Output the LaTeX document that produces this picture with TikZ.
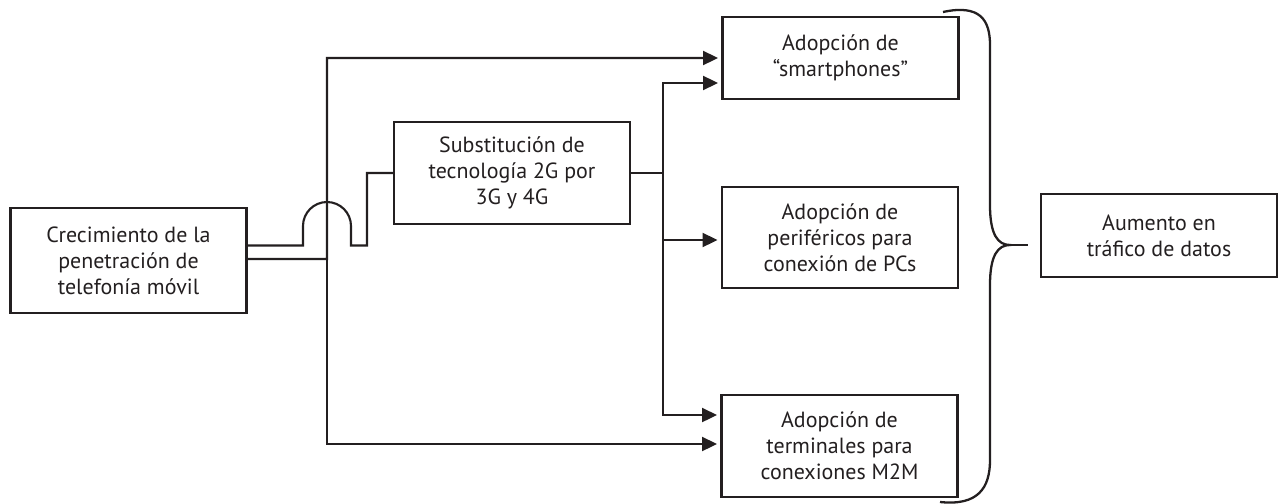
\documentclass[tikz,border=0pt]{standalone}
\usepackage{fontspec}
\setmainfont{PT Sans}
\usepackage{xcolor}
\usepackage{tikz}
\usetikzlibrary{arrows.meta,positioning}

\definecolor{ink}{RGB}{35,31,32}

\begin{document}
\begin{tikzpicture}[
    x=0.02cm, y=-0.02cm,
    box/.style={rectangle, draw=ink, line width=1.2pt, minimum width=4.72cm, align=center,
        font=\fontsize{12.5}{14.8}\selectfont, text=ink, inner sep=0pt},
    link/.style={draw=ink, line width=1.2pt},
    arr/.style={link, -{Triangle[length=8.5pt,width=8pt]}, shorten >=2pt}
]
    \useasboundingbox (0,0) rectangle (1282,504);

    % Boxes
    \node[box, minimum height=2.1cm] (crec) at (128.5,260.5)
        {Crecimiento de la\\penetración de\\telefonía móvil};
    \node[box, minimum height=2.04cm] (subst) at (512,173)
        {Substitución de\\tecnología 2G por\\3G y 4G};
    \node[box, minimum height=1.64cm] (smart) at (840.5,58)
        {Adopción de\\“smartphones”};
    \node[box, minimum height=2.02cm] (perif) at (840,237.5)
        {Adopción de\\periféricos para\\conexión de PCs};
    \node[box, minimum height=2.04cm] (m2m) at (839.5,446)
        {Adopción de\\terminales para\\conexiones M2M};
    \node[box, minimum height=1.66cm] (aumento) at (1159,235.5)
        {Aumento en\\tráfico de datos};

    % Upper line, jumping over the vertical one
    \draw[link] ([yshift=0.3cm]crec.east) -- (303,245.5) -- (303,226)
        arc[start angle=180, end angle=0, radius=0.48cm] -- (351,245.5)
        -- (367,245.5) |- (subst.west);

    % Lower line
    \draw[arr] ([yshift=0.03cm]crec.east) -- (327,259) |- (smart.west);
    \draw[arr] (327,259) |- ([yshift=0.04cm]m2m.west);

    % From substitution
    \draw[link] (subst.east) -- (663,173);
    \draw[arr] (663,173) |- ([yshift=-0.5cm]smart.west);
    \draw[arr] (663,173) |- ([yshift=-0.05cm]perif.west);
    \draw[arr] (663,173) |- ([yshift=0.62cm]m2m.west);

    % Brace
    \draw[link, line width=1.3pt] (943,12) .. controls (980,4) and (990,20) .. (990,45)
        -- (990,205) .. controls (990,235) and (998,245) .. (1010,245)
        .. controls (998,245) and (990,255) .. (990,285)
        -- (990,460) .. controls (990,488) and (978,506) .. (940,502);
    \draw[link, line width=1.3pt] (1010,245) -- (1028,245);
\end{tikzpicture}
\end{document}
